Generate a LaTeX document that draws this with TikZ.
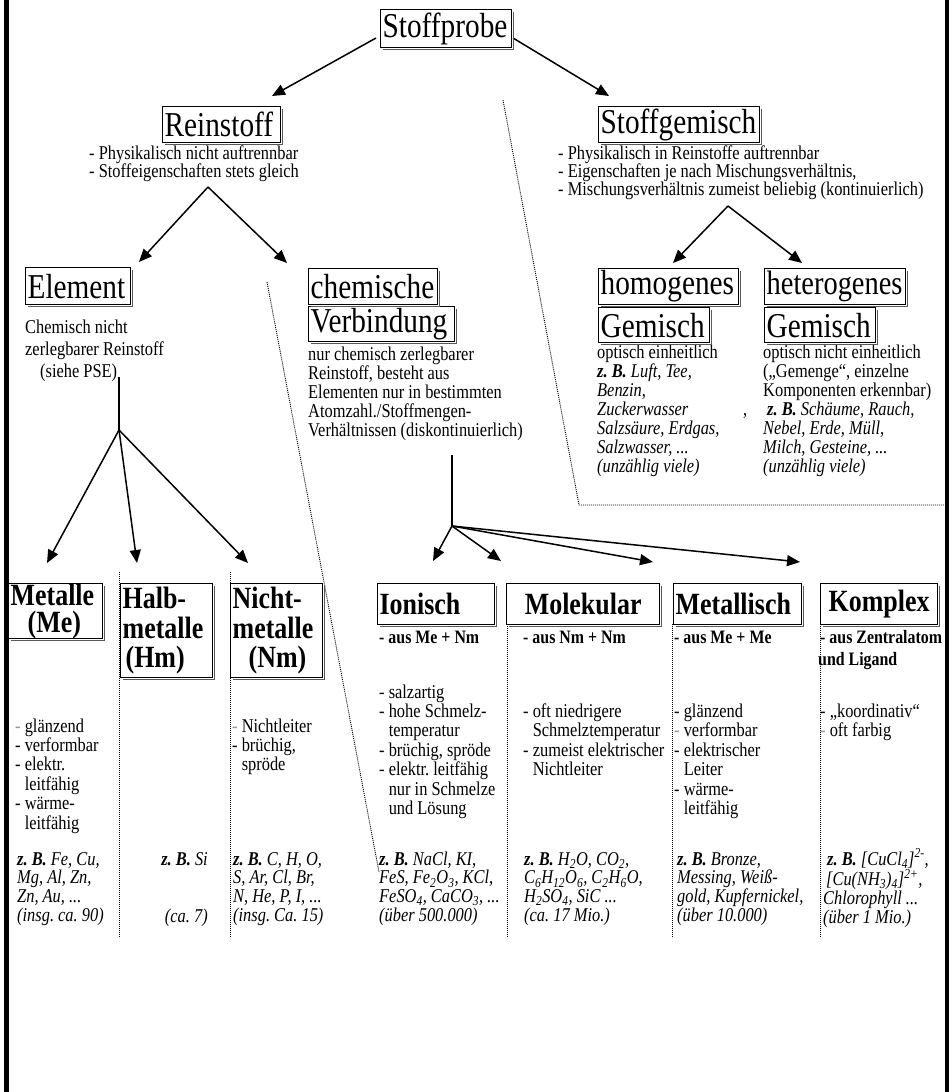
\documentclass[tikz,border=0pt]{standalone}
\usepackage{fontspec}
\setmainfont{Liberation Serif}[FakeStretch=0.84]
\usetikzlibrary{arrows.meta,calc}
\definecolor{grayd}{RGB}{150,150,150}
\newcommand\fT{\fontsize{35}{40}\selectfont}
\newcommand\fC{\fontsize{31}{29.5}\selectfont\bfseries}
\newcommand\fB{\fontsize{19.6}{19.5}\selectfont}
\newcommand\fBt{\fontsize{19.6}{18.5}\selectfont}
\newcommand\fBv{\fontsize{19.6}{19.2}\selectfont}
\newcommand\fBe{\fontsize{19.6}{22.5}\selectfont}
\newcommand\fI{\fontsize{19.6}{19}\selectfont\itshape}
\newcommand\fS{\fontsize{19}{19.5}\selectfont\bfseries}
\newcommand\dd{\phantom{- }}
\newcommand\gd{\textcolor{grayd}{-}}
\newcommand\zB{\textbf{z. B.}}
\newcommand\shad[1]{\draw[boxshadow] ($(#1.north east)+(1.3,2.5)$) -- ($(#1.south east)+(1.3,1.3)$) -- ($(#1.south west)+(2.5,1.3)$);}
\setlength\lineskiplimit{-100pt}
\frenchspacing
\begin{document}
\frenchspacing
\begin{tikzpicture}[x=1bp,y=-1bp,
  every node/.style={execute at begin node={\spaceskip=0pt\xspaceskip=0pt\relax}},
  tbox/.style={draw, line width=1.3bp, inner xsep=2bp, inner ysep=0bp, anchor=north west, align=left, font=\fT},
  cbox/.style={draw, line width=1.3bp, inner xsep=2bp, inner ysep=0bp, anchor=north west, font=\fC},
  boxshadow/.style={line width=1bp, black!65},
  txt/.style={inner sep=0bp, anchor=base west, align=left},
  arr/.style={line width=1.5bp, -{Triangle[length=13bp,width=11bp]}},
  ln/.style={line width=1.5bp},
  dots/.style={line width=0.9bp, dash pattern=on 1bp off 1bp}
]
\useasboundingbox (0,0) rectangle (949,1092);
% frame bars
\fill (4,0) rectangle (9,1092);
\fill (945,0) rectangle (949,1092);

% top level
\node[tbox, text width=127bp, minimum height=38bp] (stoff) at (380,9) {Stoffprobe};
\node[tbox, text width=114bp, minimum height=36bp] (rein) at (162,106) {Reinstoff};
\node[tbox, text width=157bp, minimum height=36bp] (gem) at (598,106) {Stoffgemisch};
\node[txt, font=\fBt, text width=260bp] (reintx) at (89,159) {- Physikalisch nicht auftrennbar\\- Stoffeigenschaften stets gleich};
\node[txt, font=\fBt, text width=380bp] (gemtx) at (558,159) {- Physikalisch in Reinstoffe auftrennbar\\- Eigenschaften je nach Mischungsverhältnis,\\- Mischungsverhältnis zumeist beliebig (kontinuierlich)};

\coordinate (s1) at (376,38); \coordinate (t1) at (272,96);
\coordinate (s2) at (513,38); \coordinate (t2) at (609,96);
\draw[arr] (s1) -- (t1);
\draw[arr] (s2) -- (t2);

% Reinstoff fork
\coordinate (r0) at (208,187); \coordinate (r1) at (139,262); \coordinate (r2) at (287,263);
\draw[arr] (r0) -- (r1);
\draw[arr] (r0) -- (r2);

% Gemisch fork
\coordinate (g0) at (728,206); \coordinate (g1) at (673,263); \coordinate (g2) at (802,263);
\draw[arr] (g0) -- (g1);
\draw[arr] (g0) -- (g2);

% Element
\node[tbox, text width=101bp, minimum height=37bp] (elem) at (25,267) {Element};
\node[txt, font=\fBe, text width=200bp] (elemtx) at (25,333) {Chemisch nicht\\zerlegbarer Reinstoff\\\hspace*{15bp}(siehe PSE)};

% chemische Verbindung
\node[tbox, text width=125bp, minimum height=36bp] (chem) at (308,268) {chemische};
\node[tbox, text width=142bp, minimum height=35bp] (verb) at (308,306) {Verbindung};
\node[txt, font=\fBv, text width=260bp] (verbtx) at (308,360) {nur chemisch zerlegbarer\\Reinstoff, besteht aus\\Elementen nur in bestimmten\\Atomzahl./Stoffmengen-\\Verhältnissen (diskontinuierlich)};

% homogen / heterogen
\node[tbox, text width=136bp, minimum height=36bp] (homo) at (598,268) {homogenes};
\node[tbox, text width=107bp, minimum height=35bp] (gem1) at (598,307) {Gemisch};
\node[tbox, text width=137bp, minimum height=36bp, font=\fontsize{34}{40}\selectfont] (hete) at (764,268) {heterogenes};
\node[tbox, text width=107bp, minimum height=35bp] (gem2) at (764,307) {Gemisch};
\node[txt, font=\fBv, text width=160bp] (homotx) at (597,358) {optisch einheitlich\\\itshape\zB{} Luft, Tee,\\Benzin,\\Zuckerwasser\\Salzsäure, Erdgas,\\Salzwasser, ...\\(unzählig viele)};
\node[txt, font=\fB] (comma) at (743,415.6) {,};
\node[txt, font=\fBv, text width=180bp] (hetetx) at (763,358) {optisch nicht einheitlich\\(„Gemenge“, einzelne\\Komponenten erkennbar)\\\itshape\hspace*{4bp}\zB{} Schäume, Rauch,\\Nebel, Erde, Müll,\\Milch, Gesteine, ...\\(unzählig viele)};

% dotted separators
\coordinate (d1a) at (503,100); \coordinate (d1b) at (579,505); \coordinate (d1c) at (944,505);
\draw[dots] (d1a) -- (d1b) -- (d1c);
\coordinate (d2a) at (267,282); \coordinate (d2b) at (379,872);
\draw[dots] (d2a) -- (d2b);
\coordinate (c1a) at (119,572); \coordinate (c1b) at (119,938);
\coordinate (c2a) at (230,572); \coordinate (c2b) at (230,938);
\coordinate (c3a) at (507,624); \coordinate (c3b) at (507,938);
\coordinate (c4a) at (672,624); \coordinate (c4b) at (672,938);
\coordinate (c5a) at (820,624); \coordinate (c5b) at (820,938);
\draw[dots] (c1a) -- (c1b);
\draw[dots] (c2a) -- (c2b);
\draw[dots] (c3a) -- (c3b);
\draw[dots] (c4a) -- (c4b);
\draw[dots] (c5a) -- (c5b);

% category boxes
\node[cbox, text width=90bp, minimum height=55bp, align=left, font=\fontsize{31}{27}\selectfont\bfseries] (me) at (8,583) {Metalle\\\hspace*{17bp}(Me)};
\node[cbox, text width=88bp, minimum height=94bp, align=left] (hm) at (120,583) {Halb-\\metalle\\\hspace*{3bp}(Hm)};
\node[cbox, text width=88bp, minimum height=94bp, align=left] (nm) at (230,583) {Nicht-\\metalle\\\hspace*{16bp}(Nm)};
\node[cbox, text width=113bp, minimum height=41bp, align=left] (ion) at (377,583) {Ionisch};
\node[cbox, text width=149bp, minimum height=41bp, align=center] (mol) at (506,583) {Molekular};
\node[cbox, text width=124bp, minimum height=41bp, align=left] (met) at (673,583) {Metallisch};
\node[cbox, text width=113bp, minimum height=41bp, align=center] (kom) at (820,583) {Komplex};

% box shadows
\shad{stoff}\shad{rein}\shad{gem}\shad{elem}\shad{chem}\shad{verb}
\shad{homo}\shad{gem1}\shad{hete}\shad{gem2}
\shad{me}\shad{hm}\shad{nm}\shad{ion}\shad{mol}\shad{met}\shad{kom}

% Element fork
\coordinate (e0) at (119,377); \coordinate (e1) at (119,430);
\coordinate (e2) at (47,563); \coordinate (e3) at (137,563); \coordinate (e4) at (248,563);
\draw[ln] (e0) -- (e1);
\draw[arr] (e1) -- (e2);
\draw[arr] (e1) -- (e3);
\draw[arr] (e1) -- (e4);

% Verbindung fork
\coordinate (v0) at (452,455); \coordinate (v1) at (452,526);
\coordinate (v2) at (433,561); \coordinate (v3) at (501,561); \coordinate (v4) at (653,562); \coordinate (v5) at (800,562);
\draw[ln] (v0) -- (v1);
\draw[arr] (v1) -- (v2);
\draw[arr] (v1) -- (v3);
\draw[arr] (v1) -- (v4);
\draw[arr] (v1) -- (v5);

% subtitles
\node[txt, font=\fS] (iona) at (379,643) {- aus Me + Nm};
\node[txt, font=\fS] (mola) at (523,643) {- aus Nm + Nm};
\node[txt, font=\fS] (meta) at (674,643) {- aus Me + Me};
\node[txt, font=\fS] (koma) at (820,643) {- aus Zentralatom};
\node[txt, font=\fS] (komb) at (818,665) {und Ligand};

% properties
\node[txt, font=\fB, text width=100bp] (mep) at (15,732) {\gd{} glänzend\\- verformbar\\- elektr.\\\dd leitfähig\\- wärme-\\\dd leitfähig};
\node[txt, font=\fB, text width=100bp] (nmp) at (232,732) {\gd{} Nichtleiter\\- brüchig,\\\dd spröde};
\node[txt, font=\fB, text width=130bp] (ionp) at (379,698) {- salzartig\\- hohe Schmelz-\\\dd temperatur\\- brüchig, spröde\\- elektr. leitfähig\\\dd nur in Schmelze\\\dd und Lösung};
\node[txt, font=\fB, text width=160bp] (molp) at (523,717.5) {- oft niedrigere\\\dd Schmelztemperatur\\- zumeist elektrischer\\\dd Nichtleiter};
\node[txt, font=\fB, text width=140bp] (metp) at (674,717.5) {- glänzend\\\gd{} verformbar\\- elektrischer\\\dd Leiter\\- wärme-\\\dd leitfähig};
\node[txt, font=\fB, text width=120bp] (komp) at (820,717.5) {- „koordinativ“\\\gd{} oft farbig};

% examples
\node[txt, font=\fI, text width=110bp] (meex) at (17,865) {\zB{} Fe, Cu,\\Mg, Al, Zn,\\Zn, Au, ...\\(insg. ca. 90)};
\node[inner sep=0bp, anchor=base east, font=\fI] (hmex1) at (208,865) {\zB{} Si};
\node[inner sep=0bp, anchor=base east, font=\fI] (hmex2) at (208,922) {(ca. 7)};
\node[txt, font=\fI, text width=120bp] (nmex) at (233,865) {\zB{} C, H, O,\\S, Ar, Cl, Br,\\N, He, P, I, ...\\(insg. Ca. 15)};
\node[txt, font=\fI, text width=130bp] (ionex) at (379,865) {\zB{} NaCl, KI,\\FeS, Fe\textsubscript{2}O\textsubscript{3}, KCl,\\FeSO\textsubscript{4}, CaCO\textsubscript{3}, ...\\(über 500.000)};
\node[txt, font=\fI, text width=140bp] (molex) at (524,865) {\zB{} H\textsubscript{2}O, CO\textsubscript{2},\\C\textsubscript{6}H\textsubscript{12}O\textsubscript{6}, C\textsubscript{2}H\textsubscript{6}O,\\H\textsubscript{2}SO\textsubscript{4}, SiC ...\\(ca. 17 Mio.)};
\node[txt, font=\fI, text width=140bp] (metex) at (677,865) {\zB{} Bronze,\\Messing, Weiß-\\gold, Kupfernickel,\\(über 10.000)};
\node[txt, font=\fI, text width=120bp] (komex) at (823,865) {\hspace*{4bp}\zB{} [CuCl\textsubscript{4}]\textsuperscript{2-},\\\hspace*{3bp}[Cu(NH\textsubscript{3})\textsubscript{4}]\textsuperscript{2+},\\Chlorophyll ...\\(über 1 Mio.)};
\end{tikzpicture}
\end{document}
